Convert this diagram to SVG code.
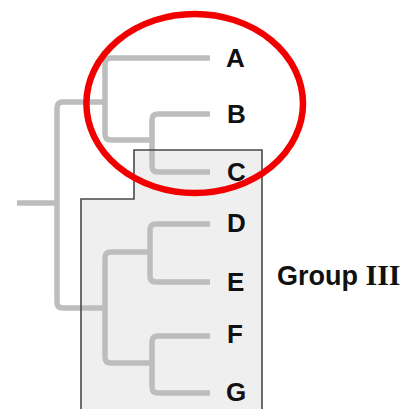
<svg xmlns="http://www.w3.org/2000/svg" width="417" height="409" viewBox="0 0 417 409">
<style>
.br{fill:none;stroke:#bdbdbd;stroke-width:5.5;stroke-linecap:butt;stroke-linejoin:round}
.lbl{font-family:"Liberation Sans",Arial,sans-serif;font-weight:bold;font-size:26px;fill:#111}
</style>
<rect width="417" height="409" fill="#fff"/>
<g id="group3-box">
<path d="M134,150 H262 V412 H81 V199 H134 Z" fill="#efefef" stroke="none"/>
</g>
<g id="connectors">
<path class="br" d="M17,203 H57"/>
<path class="br" d="M105,102 H63 Q57,102 57,108 V302 Q57,308 63,308 H105"/>
<path class="br" d="M210,58 H111 Q105,58 105,64 V134 Q105,140 111,140 H152"/>
<path class="br" d="M210,114 H158 Q152,114 152,120 V166 Q152,172 158,172 H210"/>
<path class="br" d="M150,252 H111 Q105,252 105,258 V357 Q105,363 111,363 H152"/>
<path class="br" d="M210,224 H156 Q150,224 150,230 V276 Q150,282 156,282 H210"/>
<path class="br" d="M210,336 H158 Q152,336 152,342 V387 Q152,393 158,393 H210"/>
</g>
<path d="M134,150 H262 V412 H81 V199 H134 Z" fill="none" stroke="#4a4a4a" stroke-width="1.6"/>
<g id="A"><text class="lbl" x="226" y="67">A</text></g>
<g id="B"><text class="lbl" x="227" y="123">B</text></g>
<g id="C"><text class="lbl" x="227" y="181">C</text></g>
<g id="D"><text class="lbl" x="227" y="232">D</text></g>
<g id="E"><text class="lbl" x="227" y="291">E</text></g>
<g id="F"><text class="lbl" x="227" y="343">F</text></g>
<g id="G"><text class="lbl" x="226" y="401">G</text></g>
<g id="group3-label"><text class="lbl" x="277" y="285" style="font-size:27px">Group <tspan style="font-family:'Liberation Serif','Times New Roman',serif;font-size:30px">III</tspan></text></g>
<g id="highlight"><ellipse cx="194.7" cy="103.5" rx="108.3" ry="89.5" fill="none" stroke="#f20000" stroke-width="6.5"/></g>
</svg>
